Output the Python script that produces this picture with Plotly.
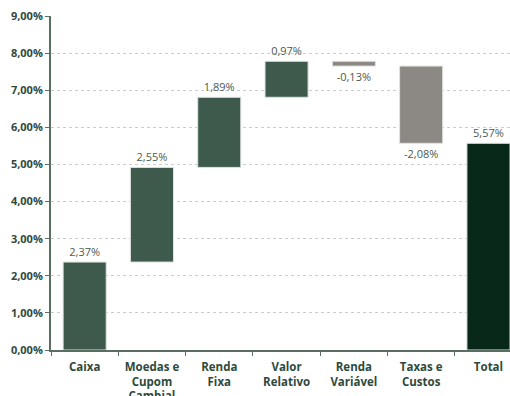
import plotly.graph_objects as go

categories = ["Caixa", "Moedas e<br>Cupom<br>Cambial", "Renda<br>Fixa", "Valor<br>Relativo",
              "Renda<br>Variável", "Taxas e<br>Custos", "Total"]
deltas = [2.37, 2.55, 1.89, 0.97, -0.13, -2.08]
total = 5.57

bases, vals, colors, texts = [], [], [], []
cum = 0.0
for d in deltas:
    bases.append(cum)
    vals.append(d)
    colors.append("#3e5a4c" if d >= 0 else "#8c8884")
    cum += d
bases.append(0)
vals.append(total)
colors.append("#08281a")
texts = [f"{v:.2f}%".replace(".", ",") for v in vals]

fig = go.Figure(go.Bar(
    x=categories, y=vals, base=bases,
    marker=dict(color=colors, line=dict(color="#dfe3df", width=1)),
    width=0.64,
    text=texts, textposition="outside", cliponaxis=False,
    textfont=dict(family="Open Sans", size=11, color="#4b5a52"),
))

fig.update_layout(
    width=510, height=396,
    margin=dict(l=51, r=0, t=16, b=46),
    paper_bgcolor="white", plot_bgcolor="white",
    showlegend=False, bargap=0.36,
    font=dict(family="Open Sans", color="#2f4a3c"),
)
fig.update_xaxes(
    range=[-0.5, 6.32], automargin=False,
    showline=True, linecolor="#5b6e63", linewidth=1.5,
    ticks="outside", tickson="boundaries", ticklen=4, tickcolor="#5b6e63",
    ticklabelstandoff=5,
    tickfont=dict(family="Open Sans", size=11.5, color="#2f4a3c", weight="bold"),
    showgrid=False,
)
fig.update_yaxes(
    range=[0, 9], tickvals=list(range(10)), automargin=False,
    ticktext=[f"{i},00%" for i in range(10)],
    showline=True, linecolor="#5b6e63", linewidth=2,
    ticks="outside", ticklen=4, tickcolor="#5b6e63",
    tickfont=dict(family="Open Sans", size=11, color="#2f4a3c", weight="bold"),
    showgrid=True, gridcolor="#c9cfc6", griddash="dot", gridwidth=1,
    zeroline=False,
)

fig.write_html("out.html")
